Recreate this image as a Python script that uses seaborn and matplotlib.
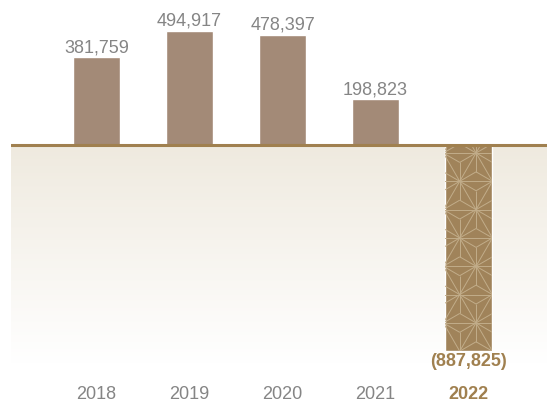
import numpy as np
import pandas as pd
import matplotlib
matplotlib.use("Agg")
import matplotlib.pyplot as plt
import matplotlib.transforms as mtransforms
from matplotlib.collections import LineCollection
import seaborn as sns

# Data
years = ["2018", "2019", "2020", "2021", "2022"]
values = [381759, 494917, 478397, 198823, -887825]

bar_color = "#a38a77"
neg_color = "#a0835a"
pattern_color = "#c2ad8a"
line_color = "#a0804f"
label_grey = "#858585"

sns.set_style("white")
plt.rcParams["font.family"] = ["Liberation Sans", "DejaVu Sans"]

W, H = 547, 404
fig = plt.figure(figsize=(W / 100, H / 100), dpi=100)
ax_bottom_px = 363
ax = fig.add_axes([11 / W, (H - ax_bottom_px) / H, (W - 11) / W, ax_bottom_px / H])

df = pd.DataFrame({"year": years, "value": values})
sns.barplot(data=df, x="year", y="value", color=bar_color, saturation=1,
            width=0.505, ax=ax, zorder=2)

# scale: zero line at 145 px from top, 88.3 px per 381,759
px_per_unit = 88.3 / 381759
zero_px = 145.3
ymax = zero_px / px_per_unit
ymin = -(ax_bottom_px - zero_px) / px_per_unit
xmin, xmax = (11 - 96.5) / 93, (W - 96.5) / 93
ax.set_xlim(xmin, xmax)
ax.set_ylim(ymin, ymax)

# beige gradient below zero
grad = np.linspace(0, 1, 256)[:, None]
top = np.array([239, 234, 223]) / 255
rgb = top[None, None, :] * (1 - grad[..., None]) + grad[..., None]
ax.imshow(rgb, extent=[xmin, xmax, ymin, 0], aspect="auto", zorder=0,
          interpolation="bilinear")

ax.axhline(0, color=line_color, lw=2.2, zorder=4)

# value labels
for i, (yr, v) in enumerate(zip(years, values)):
    if v >= 0:
        ax.annotate(f"{v:,}", (i, v), xytext=(0, 5), textcoords="offset pixels",
                    ha="center", va="baseline", fontsize=13, color=label_grey)
    else:
        ax.annotate(f"({-v:,})", (i, v), xytext=(0, -15.5), textcoords="offset pixels",
                    ha="center", va="baseline", fontsize=13, color=line_color,
                    fontweight="bold")

# asanoha pattern on the negative bar
neg_bar = ax.patches[-1]
neg_bar.set_facecolor(neg_color)
fig.canvas.draw()
bb = neg_bar.get_window_extent()
a = 32.7
h = a * np.sqrt(3) / 2
x0 = bb.x0 + 14.7
y0 = bb.y1 - 36.0
segs = []
for j in range(-2, 12):
    for i in range(-3, 5):
        def P(ii, jj):
            return (x0 + ii * a + jj * a / 2, y0 - jj * h)
        v00, v10, v01, v11 = P(i, j), P(i + 1, j), P(i, j + 1), P(i + 1, j + 1)
        segs += [[v00, v10], [v00, v01], [v10, v01]]
        for tri in ([v00, v10, v01], [v10, v01, v11]):
            c = np.mean(tri, axis=0)
            segs += [[tuple(c), p] for p in tri]
lc = LineCollection(segs, colors=pattern_color, linewidths=0.7,
                    transform=mtransforms.IdentityTransform(), zorder=3)
ax.add_collection(lc)
lc.set_clip_path(neg_bar)

# axes styling
for s in ax.spines.values():
    s.set_visible(False)
ax.set_yticks([])
ax.set_xlabel("")
ax.set_ylabel("")
ax.tick_params(axis="x", length=0, pad=16.3, labelsize=13, labelcolor=label_grey)
for lab in ax.get_xticklabels():
    if lab.get_text() == "2022":
        lab.set_color(line_color)
        lab.set_fontweight("bold")
ax.set_facecolor("none")
ax.grid(False)

fig.savefig("out.png", dpi=100)
